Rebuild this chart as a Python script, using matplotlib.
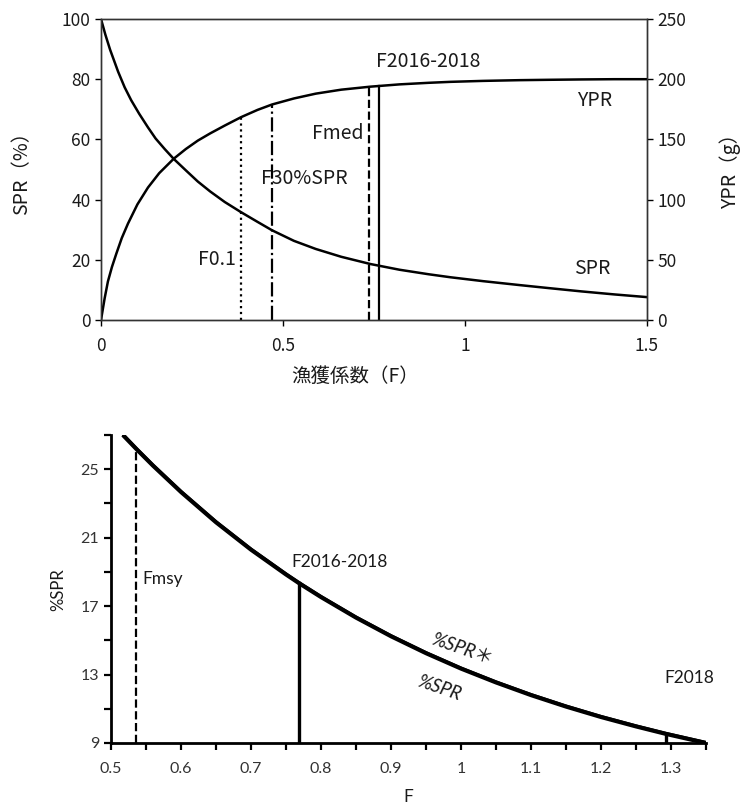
import numpy as np
import matplotlib
matplotlib.use("Agg")
import matplotlib.pyplot as plt
from matplotlib.ticker import FixedLocator, FuncFormatter

# ---- Upper panel: SPR (%) and YPR (g) versus fishing mortality ----
f_spr = [0, 0.012, 0.025, 0.047, 0.065, 0.083, 0.105, 0.129, 0.15, 0.175, 0.2,
         0.235, 0.266, 0.3, 0.34, 0.385, 0.43, 0.47, 0.53, 0.59, 0.66, 0.74,
         0.82, 0.9, 0.96, 1.05, 1.15, 1.23, 1.32, 1.41, 1.5]
spr_pct = [100, 94.8, 89.8, 82.5, 77.3, 73, 68.5, 64, 60.3, 56.8, 53.5,
           49.5, 46, 42.7, 39.2, 35.8, 32.6, 29.8, 26.3, 23.6, 21.0, 18.6,
           16.7, 15.2, 14.2, 12.9, 11.6, 10.6, 9.5, 8.5, 7.6]

f_ypr = [0, 0.01, 0.019, 0.03, 0.042, 0.057, 0.074, 0.1, 0.129, 0.16, 0.2,
         0.233, 0.266, 0.3, 0.34, 0.385, 0.43, 0.47, 0.53, 0.59, 0.66, 0.74,
         0.82, 0.9, 0.96, 1.05, 1.15, 1.23, 1.32, 1.41, 1.5]
ypr_g = [0, 18, 32, 44, 55, 68, 80, 96, 110, 122, 134,
         142, 149, 155, 161.5, 168.5, 174.5, 179, 184, 188, 191.3, 193.8,
         195.7, 197, 197.8, 198.6, 199.2, 199.5, 199.8, 200, 200]

ref_names = ["F0.1", "F30%SPR", "Fmed", "F2016-2018"]
ref_f = [0.385, 0.47, 0.736, 0.764]
ref_styles = [":", "-.", "--", "-"]

# ---- Lower panel: %SPR versus F ----
f_low = [0.517, 0.537, 0.56, 0.6, 0.65, 0.7, 0.75, 0.769, 0.8, 0.85, 0.9,
         0.95, 1.0, 1.05, 1.1, 1.15, 1.2, 1.25, 1.293, 1.35]
pspr = [27.0, 26.15, 25.21, 23.67, 21.9, 20.3, 18.85, 18.33, 17.53, 16.33, 15.24,
        14.25, 13.35, 12.54, 11.8, 11.13, 10.52, 9.97, 9.53, 9.0]
pspr_star = [27.03, 26.18, 25.24, 23.7, 21.93, 20.33, 18.88, 18.36, 17.56, 16.36, 15.27,
             14.28, 13.38, 12.57, 11.83, 11.16, 10.55, 10.0, 9.56, 9.03]

low_ref_names = ["Fmsy", "F2016-2018", "F2018"]
low_ref_f = [0.536, 0.769, 1.293]
low_ref_styles = ["--", "-", "-"]

fig = plt.figure(figsize=(7.41, 8.09), dpi=100)
W, H = 741, 809

def box(l, t, r, b):
    return [l / W, 1 - b / H, (r - l) / W, (b - t) / H]

jp = ["Noto Sans CJK JP", "DejaVu Sans"]
txt = "#1a1a1a"

ax = fig.add_axes(box(101, 19, 647, 320))
ax2 = ax.twinx()
ax.set_xlim(0, 1.5)
ax.set_ylim(0, 100)
ax2.set_ylim(0, 250)

ax.plot(f_spr, spr_pct, color="black", lw=1.8)
ax2.plot(f_ypr, ypr_g, color="black", lw=1.8)
for f, ls in zip(ref_f, ref_styles):
    # each reference line rises from the axis to the YPR curve
    top = np.interp(f, f_ypr, ypr_g) * 100 / 250
    ax.plot([f, f], [0, top], color="black", lw=1.6, ls=ls)

ax.set_xticks([0, 0.5, 1, 1.5])
ax.set_xticklabels(["0", "0.5", "1", "1.5"])
ax.set_yticks([0, 20, 40, 60, 80, 100])
ax2.set_yticks([0, 50, 100, 150, 200, 250])
for a in (ax, ax2):
    a.tick_params(direction="out", length=4, width=1, colors="black",
                  labelcolor=txt, labelsize=12.5)
    for lab in a.get_xticklabels() + a.get_yticklabels():
        lab.set_fontfamily(jp)
    for s in a.spines.values():
        s.set_color("#333333")
        s.set_linewidth(1)
ax.tick_params(axis="x", pad=8)

ann_kw = dict(fontsize=14, color=txt, family=jp)
ax.text(0.37, 20, "F0.1", ha="right", va="center", **ann_kw)
ax.text(0.44, 47, "F30%SPR", ha="left", va="center", **ann_kw)
ax.text(0.72, 62, "Fmed", ha="right", va="center", **ann_kw)
ax.text(0.755, 86, "F2016-2018", ha="left", va="center", **ann_kw)
ax.text(1.405, 73, "YPR", ha="right", va="center", **ann_kw)
ax.text(1.4, 17, "SPR", ha="right", va="center", **ann_kw)

fig.text(355 / W, 1 - 376 / H, "漁獲係数（F）", ha="center", va="center",
         fontsize=14, color=txt, family=jp)
fig.text(22 / W, 1 - 168 / H, "SPR（%）", ha="center", va="center",
         rotation=90, fontsize=14, color=txt, family=jp)
fig.text(730 / W, 1 - 166 / H, "YPR（g）", ha="center", va="center",
         rotation=90, fontsize=14, color=txt, family=jp)

# ---- lower axes ----
lf = ["Lato", "Noto Sans CJK JP", "DejaVu Sans"]
bx = fig.add_axes(box(111, 435, 706, 743))
bx.set_xlim(0.5, 1.35)
bx.set_ylim(9, 27)
bx.spines["top"].set_visible(False)
bx.spines["right"].set_visible(False)
for s in ("left", "bottom"):
    bx.spines[s].set_linewidth(2)
    bx.spines[s].set_color("black")

bx.plot(f_low, pspr, color="black", lw=3, solid_capstyle="butt",
        solid_joinstyle="round")
bx.plot(f_low, pspr_star, color="black", lw=2.2, solid_capstyle="butt",
        solid_joinstyle="round")
for f, ls in zip(low_ref_f, low_ref_styles):
    top = np.interp(f, f_low, pspr)
    bx.plot([f, f], [9, top], color="black", lw=2.4 if ls == "-" else 1.6, ls=ls)

xt = np.round(np.arange(0.5, 1.351, 0.05), 2)
bx.xaxis.set_major_locator(FixedLocator(xt))
bx.xaxis.set_major_formatter(FuncFormatter(
    lambda v, p: (f"{v:g}" if abs(v * 10 - round(v * 10)) < 1e-6 and v < 1.34 else "")))
yt = [9, 11, 13, 15, 17, 19, 21, 23, 25, 27]
bx.yaxis.set_major_locator(FixedLocator(yt))
bx.yaxis.set_major_formatter(FuncFormatter(
    lambda v, p: (f"{v:g}" if int(round(v)) in (9, 13, 17, 21, 25) else "")))
bx.tick_params(direction="out", length=5, width=1.6, colors="black",
               labelcolor="#333333", labelsize=11.5)
bx.tick_params(axis="x", pad=9)
for lab in bx.get_xticklabels() + bx.get_yticklabels():
    lab.set_fontfamily(lf)

lk = dict(fontsize=12.5, color=txt, family=lf)
bx.text(0.545, 18.6, "Fmsy", ha="left", va="center", **lk)
bx.text(0.757, 19.6, "F2016-2018", ha="left", va="center", **lk)
bx.text(1.29, 12.8, "F2018", ha="left", va="center", **lk)
bx.text(0.955, 14.5, "%SPR＊", ha="left", va="center", rotation=-19,
        style="italic", fontsize=13.5, color=txt, family=lf)
bx.text(0.935, 12.2, "%SPR", ha="left", va="center", rotation=-19,
        style="italic", fontsize=13.5, color=txt, family=lf)

fig.text(58 / W, 1 - 590 / H, "%SPR", ha="center", va="center",
         rotation=90, fontsize=12, color=txt, family=lf)
fig.text(408 / W, 1 - 797 / H, "F", ha="center", va="center",
         fontsize=12.5, color=txt, family=lf)

fig.savefig("out.png", dpi=100, facecolor="white")
